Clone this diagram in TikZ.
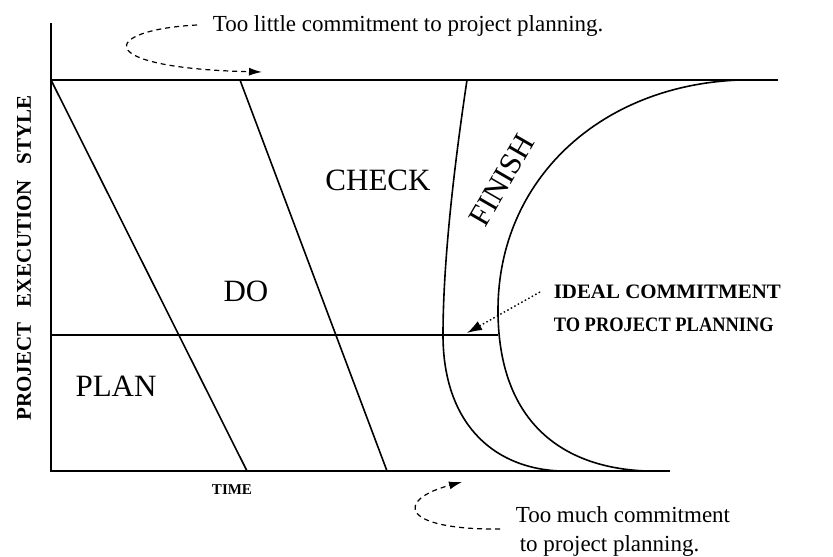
\documentclass[tikz,border=0pt]{standalone}
\usepackage{fontspec}
\setmainfont{Liberation Serif}
\usetikzlibrary{arrows.meta}
\begin{document}
\begin{tikzpicture}[x=1pt,y=-1pt, line width=1.6pt,
  bigl/.style={font=\fontsize{31}{31}\selectfont, inner sep=0pt},
  note/.style={font=\fontsize{23}{23}\selectfont, inner sep=0pt},
  boldl/.style={font=\bfseries\fontsize{20.5}{20.5}\selectfont, inner sep=0pt},
  dasharrow/.style={line width=1.2pt, dash pattern=on 5pt off 4pt, -{Latex[length=13pt,width=8pt]}},
  dotarrow/.style={line width=1.4pt, dash pattern=on 1.5pt off 2.5pt, -{Latex[length=15pt,width=10pt]}}]
\useasboundingbox (0,0) rectangle (833,557);
% axes and frame lines
\coordinate (O) at (51,471);
\coordinate (Ytop) at (51,23);
\coordinate (TL) at (51,80);
\coordinate (TR) at (778,80);
\coordinate (BR) at (670,471);
\coordinate (ML) at (51,335);
\coordinate (MR) at (498,335);
\coordinate (D1t) at (51,80);  \coordinate (D1b) at (247,471);
\coordinate (D2t) at (240,80); \coordinate (D2b) at (387,471);
\coordinate (C1t) at (467,80); \coordinate (C1m) at (443,335); \coordinate (C1b) at (560,471);
\coordinate (F1t) at (740,80); \coordinate (F1m) at (498,310); \coordinate (F1b) at (647,471);

\draw (Ytop) -- (O) -- (BR);
\draw (TL) -- (TR);
\draw (ML) -- (MR);
\draw (D1t) -- (D1b);
\draw (D2t) -- (D2b);
\draw (C1t) .. controls (452,180) and (443,270) .. (C1m) .. controls (443,420) and (490,468) .. (C1b);
\draw (F1t) .. controls (600,85) and (498,180) .. (F1m) .. controls (498,420) and (560,468) .. (F1b);

% region labels
\node[bigl] (plan) at (116,386) {PLAN};
\node[bigl] (do) at (246,291) {DO};
\node[bigl] (check) at (378,180) {CHECK};
\node[bigl, rotate=60] (finish) at (502,180) {FINISH};

% notes
\node[note, anchor=base west] (toolittle) at (212,31) {Too little commitment to project planning.};
\node[note, anchor=base west] (toomuch) at (515,522) {Too much commitment};
\node[note, anchor=base west] (toomuchb) at (519,551) {to project planning.};
\node[boldl, anchor=base west] (ideal) at (553,298) {\scalebox{1.02}[1]{IDEAL COMMITMENT}};
\node[boldl, anchor=base west] (idealb) at (553,331) {\scalebox{0.9}[1]{TO PROJECT PLANNING}};
\node[font=\bfseries\fontsize{15}{15}\selectfont] (time) at (232,490) {TIME};
\node[font=\bfseries\fontsize{21}{21}\selectfont, rotate=90] (ylab) at (24,258) {PROJECT\hspace{.5em} EXECUTION\hspace{.5em} STYLE};

% arrows
\coordinate (a1s) at (197,25); \coordinate (a1e) at (262,72);
\coordinate (a2s) at (500,529); \coordinate (a2e) at (462,482);
\coordinate (a3s) at (540,292); \coordinate (a3e) at (467,333);
\draw[dasharrow] (a1s) .. controls (100,30) and (90,68) .. (a1e);
\draw[dasharrow] (a2s) .. controls (400,530) and (395,500) .. (a2e);
\draw[dotarrow] (a3s) -- (a3e);
\end{tikzpicture}
\end{document}
